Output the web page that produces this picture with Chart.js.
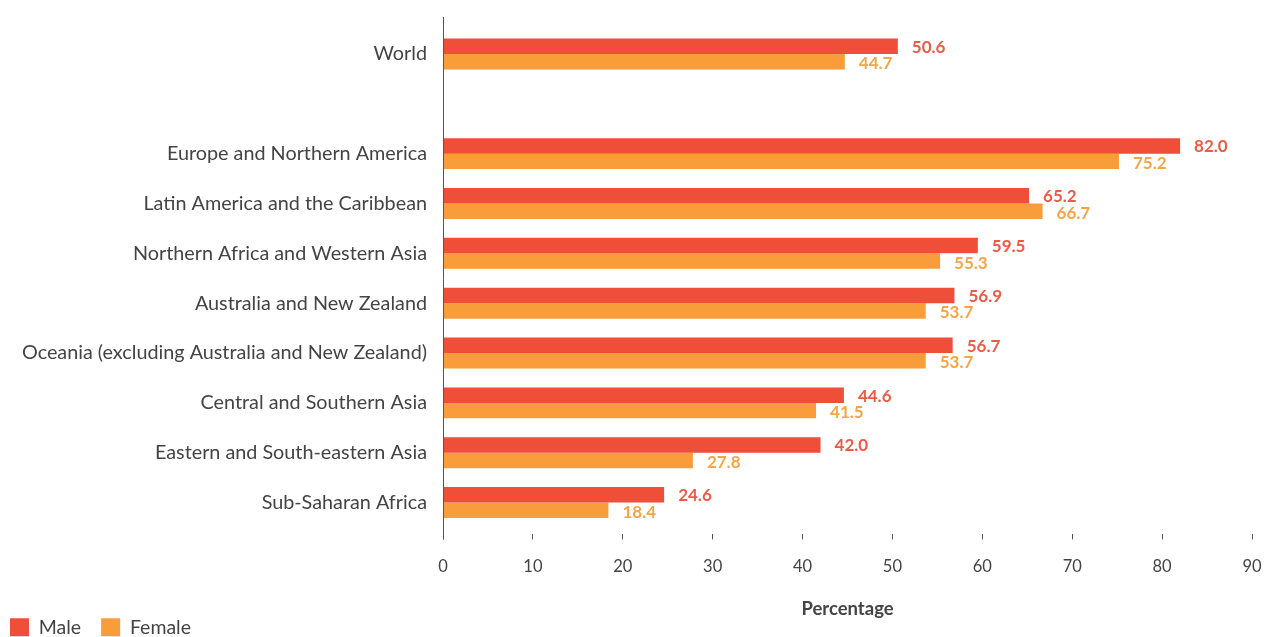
<!DOCTYPE html>
<html>
<head>
<meta charset="utf-8">
<script src="https://cdn.jsdelivr.net/npm/chart.js@4"></script>
<style>
  html, body { margin: 0; padding: 0; background: #fff; overflow: hidden; }
  #wrap { width: 1265px; height: 637px; }
</style>
</head>
<body>
<div id="wrap"><canvas id="barChart"></canvas></div>
<script>
const regions = ["World", "", "Europe and Northern America", "Latin America and the Caribbean",
  "Northern Africa and Western Asia", "Australia and New Zealand",
  "Oceania (excluding Australia and New Zealand)", "Central and Southern Asia",
  "Eastern and South-eastern Asia", "Sub-Saharan Africa"];
const male = [50.6, null, 82.0, 65.2, 59.5, 56.9, 56.7, 44.6, 42.0, 24.6];
const female = [44.7, null, 75.2, 66.7, 55.3, 53.7, 53.7, 41.5, 27.8, 18.4];
const xTicks = [0, 10, 20, 30, 40, 50, 60, 70, 80, 90];

const red = "#EF4E39";
const orange = "#F99D3A";

Chart.defaults.font.family = "Lato, 'Open Sans', sans-serif";
Chart.defaults.color = "#444";

// value labels at the bar ends + the long y axis line
const barLabels = {
  id: 'barLabels',
  afterDatasetsDraw(chart) {
    const ctx = chart.ctx;
    ctx.save();
    ctx.font = "bold 17px Lato, sans-serif";
    ctx.textBaseline = "middle";
    ctx.textAlign = "left";
    chart.data.datasets.forEach((ds, i) => {
      const meta = chart.getDatasetMeta(i);
      ctx.fillStyle = i === 0 ? "#EE5A45" : "#F8A444";
      meta.data.forEach((bar, j) => {
        if (ds.data[j] == null) return;
        ctx.fillText(ds.data[j].toFixed(1), bar.x + 14, bar.y + (i === 0 ? 1 : 2));
      });
    });
    const a = chart.chartArea;
    ctx.strokeStyle = "#555";
    ctx.lineWidth = 1;
    ctx.beginPath();
    ctx.moveTo(Math.round(a.left) + 0.5, a.top - 12);
    ctx.lineTo(Math.round(a.left) + 0.5, a.bottom + 12);
    ctx.stroke();
    ctx.restore();
  }
};

new Chart(document.getElementById('barChart'), {
  type: 'bar',
  data: {
    labels: regions,
    datasets: [
      { label: "Male", data: male, backgroundColor: red },
      { label: "Female", data: female, backgroundColor: orange }
    ]
  },
  options: {
    indexAxis: 'y',
    responsive: true,
    maintainAspectRatio: false,
    animation: false,
    categoryPercentage: 0.62,
    barPercentage: 1,
    layout: { padding: { top: 29, right: 13, left: -10, bottom: -10 } },
    plugins: {
      tooltip: { enabled: false },
      legend: {
        position: 'bottom',
        align: 'start',
        labels: { boxWidth: 19, boxHeight: 18, padding: 20, font: { size: 19.5 }, color: "#444" }
      }
    },
    scales: {
      x: {
        min: 0, max: 90,
        afterBuildTicks: s => { s.ticks = xTicks.map(v => ({ value: v })); },
        grid: { drawOnChartArea: false, tickLength: 12, tickBorderDash: [0, 6, 6], tickColor: "#555" },
        border: { display: false },
        ticks: { padding: 17, font: { size: 16.5 }, color: "#444" },
        title: { display: true, text: "Percentage", font: { size: 18.5, weight: 'bold' }, color: "#444",
                 padding: { top: 0, bottom: -23 } },
        afterFit: s => { s.height = 70; s.paddingRight = 0; s.paddingLeft = 0; }
      },
      y: {
        grid: { display: false, drawTicks: false },
        border: { display: false },
        ticks: { padding: 16, font: { size: 19.8 }, color: "#444" },
        afterFit: s => { s.width = 453; }
      }
    }
  },
  plugins: [barLabels]
});
</script>
</body>
</html>
